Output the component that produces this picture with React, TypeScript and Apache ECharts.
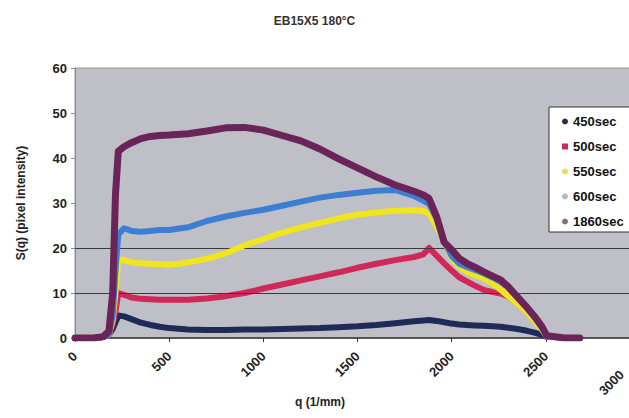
import React, { useEffect, useRef } from 'react';
import * as echarts from 'echarts';

const TITLE = 'EB15X5 180°C';
const X_NAME = 'q (1/mm)';
const Y_NAME = 'S(q) (pixel intensity)';
const SERIES_NAMES = ['450sec', '500sec', '550sec', '600sec', '1860sec'];
const COLORS = ['#1e2a58', '#d1285a', '#f1e61c', '#3c7fd2', '#6b2457'];

const Q = [0, 100, 150, 180, 200, 215, 230, 260, 300, 350, 400, 450, 500, 600, 700, 800, 900, 1000, 1100, 1200, 1300, 1400, 1500, 1600, 1700, 1800, 1850, 1880, 1920, 1960, 2000, 2040, 2080, 2120, 2170, 2220, 2260, 2300, 2350, 2400, 2440, 2480, 2505, 2600, 2680];

const S450 = [0, 0, 0.2, 0.8, 2.0, 3.5, 5.0, 4.8, 4.2, 3.4, 2.9, 2.5, 2.2, 1.9, 1.8, 1.8, 1.9, 1.9, 2.0, 2.1, 2.2, 2.4, 2.6, 2.9, 3.3, 3.7, 3.9, 4.0, 3.8, 3.5, 3.2, 3.0, 2.9, 2.8, 2.7, 2.6, 2.5, 2.3, 2.0, 1.6, 1.2, 0.7, 0.2, null, null];
const S500 = [0, 0, 0.2, 0.8, 3.0, 6.0, 10.0, 9.6, 9.0, 8.7, 8.6, 8.5, 8.5, 8.5, 8.8, 9.3, 10.0, 11.0, 11.9, 12.8, 13.7, 14.6, 15.6, 16.5, 17.3, 18.0, 18.6, 20.0, 18.3, 16.6, 15.0, 13.5, 12.6, 11.7, 10.7, 10.2, 9.9, 9.2, 7.7, 6.0, 4.4, 2.0, 0.3, null, null];
const S550 = [0, 0, 0.2, 0.8, 4.0, 10.0, 17.5, 17.3, 16.8, 16.6, 16.5, 16.4, 16.3, 16.8, 17.6, 18.8, 20.6, 22.0, 23.4, 24.6, 25.6, 26.6, 27.4, 27.9, 28.3, 28.4, 28.2, 27.6, 24.8, 21.5, 17.8, 15.8, 14.7, 14.0, 13.3, 12.0, 10.7, 9.3, 7.6, 5.8, 3.8, 1.8, 0.3, null, null];
const S600 = [0, 0, 0.2, 0.8, 5.0, 15.0, 23.0, 24.4, 23.8, 23.6, 23.8, 24.0, 24.0, 24.6, 26.0, 27.0, 27.8, 28.5, 29.4, 30.3, 31.2, 31.8, 32.3, 32.7, 32.9, 31.6, 30.5, 29.8, 26.5, 21.5, 18.2, 16.5, 15.8, 15.2, 14.4, 13.4, 12.5, 11.3, 9.0, 6.8, 4.6, 2.2, 0.4, null, null];
const S1860 = [0, 0, 0.3, 1.5, 10.0, 32.0, 41.5, 42.5, 43.4, 44.3, 44.8, 45.0, 45.1, 45.4, 46.0, 46.7, 46.8, 46.2, 45.0, 43.8, 42.0, 39.8, 37.8, 35.8, 34.0, 32.6, 31.8, 31.0, 27.0, 21.3, 19.6, 17.7, 16.6, 15.8, 14.7, 13.7, 12.9, 11.4, 9.1, 6.8, 4.8, 2.5, 0.5, 0, 0];

const VALUES = [S450, S500, S550, S600, S1860];
const GRID_LINES = [10, 20];
const LEGEND_ICON_COLORS = ['#2a2a40', '#d1285a', '#e8dc60', '#b8b8c0', '#8a6a80'];

const FONT = '"Liberation Sans", Arial, sans-serif';

export default function App() {
  const ref = useRef<HTMLDivElement>(null);
  useEffect(() => {
    const chart = echarts.init(ref.current as HTMLDivElement, null, { renderer: 'svg' });
    const series: any[] = SERIES_NAMES.map((name, si) => ({
      name,
      type: 'line',
      data: Q.map((q, i) => [q, VALUES[si][i]]),
      showSymbol: false,
      symbol: 'none',
      connectNulls: false,
      z: 3 + si,
      lineStyle: { color: COLORS[si], width: si === 4 ? 7 : 6, join: 'round', cap: 'round' },
      itemStyle: { color: COLORS[si] },
    }));
    series.unshift({
      name: 'grid',
      type: 'line',
      data: [],
      z: 1,
      silent: true,
      markLine: {
        silent: true,
        symbol: 'none',
        label: { show: false },
        lineStyle: { color: '#3a3a3a', width: 1, type: 'solid' },
        data: GRID_LINES.map((v) => ({ yAxis: v })),
      },
    });
    chart.setOption({
      animation: false,
      backgroundColor: '#ffffff',
      textStyle: { fontFamily: FONT },
      title: {
        text: TITLE,
        left: 'center',
        top: 10,
        textStyle: { fontSize: 12, fontWeight: 'bold', color: '#333', fontFamily: FONT },
      },
      grid: {
        left: 75,
        top: 68,
        right: -11,
        bottom: 80,
        containLabel: false,
        outerBoundsMode: 'none',
        show: true,
        backgroundColor: '#bfbfc8',
        borderColor: '#9a9aa0',
        borderWidth: 1,
      },
      legend: {
        orient: 'vertical',
        left: 549,
        top: 107,
        padding: [8, 30, 4, 13],
        itemGap: 12,
        itemWidth: 6,
        itemHeight: 6,
        backgroundColor: '#ffffff',
        borderColor: '#333',
        borderWidth: 1,
        textStyle: { fontSize: 13, fontWeight: 'bold', color: '#111', fontFamily: FONT },
        data: SERIES_NAMES.map((name, i) => ({
          name,
          icon: i === 1 ? 'rect' : 'circle',
          itemStyle: { color: LEGEND_ICON_COLORS[i] },
        })),
      },
      xAxis: {
        type: 'value',
        min: 0,
        max: 3000,
        interval: 500,
        splitLine: { show: false },
        axisLine: { show: true, lineStyle: { color: '#333', width: 1.5 } },
        axisTick: { show: true, length: 4, lineStyle: { color: '#333' } },
        axisLabel: {
          rotate: 45,
          margin: 16,
          fontSize: 13,
          fontWeight: 'bold',
          color: '#222',
          fontFamily: FONT,
          formatter: (v: number) => (v === 3000 ? '{last|' + v + '}' : String(v)),
          rich: {
            last: {
              fontSize: 13,
              fontWeight: 'bold',
              color: '#222',
              fontFamily: FONT,
              padding: [0, 26, 0, 0],
            },
          },
        },
      },
      yAxis: {
        type: 'value',
        min: 0,
        max: 60,
        interval: 10,
        name: Y_NAME,
        nameLocation: 'middle',
        nameGap: 48,
        nameTextStyle: { fontSize: 12, fontWeight: 'bold', color: '#222', fontFamily: FONT },
        splitLine: { show: false },
        axisLine: { show: true, lineStyle: { color: '#8a8a90', width: 1 } },
        axisTick: { show: true, length: 4, lineStyle: { color: '#8a8a90' } },
        axisLabel: { margin: 8, fontSize: 13, fontWeight: 'bold', color: '#222', fontFamily: FONT },
      },
      graphic: [
        {
          type: 'text',
          x: 320,
          y: 402,
          style: {
            text: X_NAME,
            fill: '#222',
            font: 'bold 12px ' + FONT,
            textAlign: 'center',
            textVerticalAlign: 'middle',
          },
        },
      ],
      series,
    });
    return () => chart.dispose();
  }, []);
  return (
    <div
      ref={ref}
      style={{ position: 'fixed', left: 0, top: 0, width: 629, height: 418, background: '#fff' }}
    />
  );
}
